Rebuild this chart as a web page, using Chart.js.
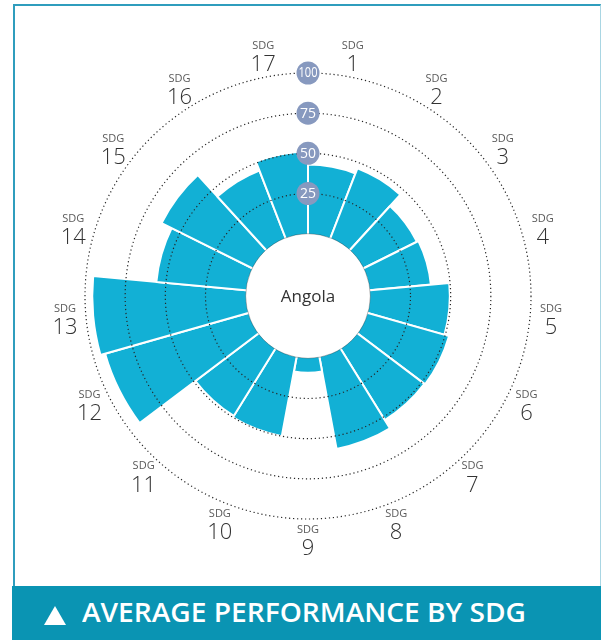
<!DOCTYPE html>
<html>
<head>
<meta charset="utf-8">
<script src="https://cdn.jsdelivr.net/npm/chart.js@4/dist/chart.umd.min.js"></script>
<style>
  html, body { margin: 0; padding: 0; background: #fff; }
  #wrap { position: relative; width: 601px; height: 640px; overflow: hidden; font-family: 'Open Sans', 'Noto Sans', sans-serif; }
  #frame { position: absolute; left: 13px; top: 4px; width: 585px; height: 590px;
           border-top: 2px solid #2f9dbd; border-left: 2px solid #2f9dbd; border-right: 1px solid #a9d6e3; }
  #chart { position: absolute; left: 0; top: 0; }
  #banner { position: absolute; left: 12px; top: 586px; width: 589px; height: 54px; background: #0a94b3; color: #fff; }
  #banner .tri { position: absolute; left: 32px; top: 20px; width: 0; height: 0;
                 border-left: 11px solid transparent; border-right: 11px solid transparent; border-bottom: 19px solid #fff; }
  #banner .txt { position: absolute; left: 70px; top: 10px; font-weight: 600; font-size: 27px; line-height: 32px;
                 white-space: nowrap; transform-origin: 0 50%; letter-spacing: 0; }
</style>
</head>
<body>
<div id="wrap">
  <div id="frame"></div>
  <canvas id="chart" width="601" height="640"></canvas>
  <div id="banner"><div class="tri"></div><div class="txt" id="bannerText">AVERAGE PERFORMANCE BY SDG</div></div>
</div>
<script>
(function () {
  'use strict';

  // ---- data ----
  const sdgNumbers = ['1', '2', '3', '4', '5', '6', '7', '8', '9', '10', '11', '12', '13', '14', '15', '16', '17'];
  const scores = [43, 46.5, 37, 38, 49.5, 52.5, 52, 58, 9, 50, 49, 92.5, 95.5, 56, 63, 45, 51];
  const ringTicks = [25, 50, 75, 100];
  const countryName = 'Angola';
  const labelPrefix = 'SDG';

  const C = {
    bar: '#12b0d5', sep: '#ffffff', dots: '#262626', badge: '#8799bf',
    ink: '#333333', inkSoft: '#5a5a5a', hole: '#ffffff', holeEdge: 'rgba(0,0,0,0.28)',
  };

  // white hole in the middle + country name
  const centerHole = {
    id: 'centerHole',
    afterDatasetsDraw(chart) {
      const s = chart.scales.r, ctx = chart.ctx;
      const r0 = s.getDistanceFromCenterForValue(0);
      ctx.save();
      ctx.beginPath();
      ctx.arc(s.xCenter, s.yCenter, r0, 0, Math.PI * 2);
      ctx.fillStyle = C.hole;
      ctx.fill();
      ctx.lineWidth = 1;
      ctx.strokeStyle = C.holeEdge;
      ctx.stroke();
      ctx.fillStyle = C.ink;
      ctx.font = '17px "Open Sans", "Noto Sans", sans-serif';
      ctx.textAlign = 'center';
      ctx.textBaseline = 'middle';
      ctx.fillText(countryName, s.xCenter, s.yCenter + 1);
      ctx.restore();
    },
  };

  // round value badges on the rings + "SDG n" labels around the outside
  const decorations = {
    id: 'decorations',
    afterDraw(chart) {
      const s = chart.scales.r, ctx = chart.ctx;
      ctx.save();
      ctx.textAlign = 'center';
      ctx.textBaseline = 'middle';
      ringTicks.forEach(v => {
        const p = s.getPointPositionForValue(0, v);
        ctx.beginPath();
        ctx.arc(p.x, p.y, 11.5, 0, Math.PI * 2);
        ctx.fillStyle = C.badge;
        ctx.fill();
        ctx.fillStyle = '#fff';
        ctx.font = '14px "Open Sans", "Noto Sans", sans-serif';
        ctx.fillText(String(v), p.x, p.y + 0.5, 19);
      });
      const dist = s.getDistanceFromCenterForValue(100) + 21;
      sdgNumbers.forEach((n, i) => {
        const p = s.getPointPosition(i + 0.5, dist);
        ctx.fillStyle = C.inkSoft;
        ctx.font = '11px "Open Sans", "Noto Sans", sans-serif';
        ctx.fillText(labelPrefix, p.x, p.y - 10);
        ctx.fillStyle = C.ink;
        ctx.font = '300 22px "Open Sans", "Noto Sans", sans-serif';
        ctx.fillText(n, p.x, p.y + 9);
      });
      ctx.restore();
    },
  };

  new Chart(document.getElementById('chart'), {
    type: 'polarArea',
    data: {
      labels: sdgNumbers.map(n => labelPrefix + ' ' + n),
      datasets: [{
        data: scores,
        backgroundColor: C.bar,
        borderColor: C.sep,
        borderWidth: 2,
        hoverBackgroundColor: C.bar,
      }],
    },
    options: {
      responsive: false,
      animation: false,
      devicePixelRatio: 1,
      events: [],
      layout: { padding: { left: 85, right: 70, top: 73, bottom: 121 } },
      plugins: { legend: { display: false }, tooltip: { enabled: false } },
      scales: {
        r: {
          min: -38.8,
          max: 100,
          ticks: { display: false, stepSize: 25 },
          pointLabels: { display: false },
          angleLines: { display: false },
          grid: {
            z: 1,
            circular: true,
            lineWidth: 1.2,
            color: (ctx) => (ctx.tick && ctx.tick.value > 0 ? C.dots : 'rgba(0,0,0,0)'),
          },
          border: { dash: [1.2, 2.8] },
        },
      },
    },
    plugins: [centerHole, decorations],
  });

  // squeeze banner title to the reference width
  const t = document.getElementById('bannerText');
  const w = t.getBoundingClientRect().width;
  if (w > 0) t.style.transform = 'scaleX(' + (444 / w) + ')';
})();
</script>
</body>
</html>
